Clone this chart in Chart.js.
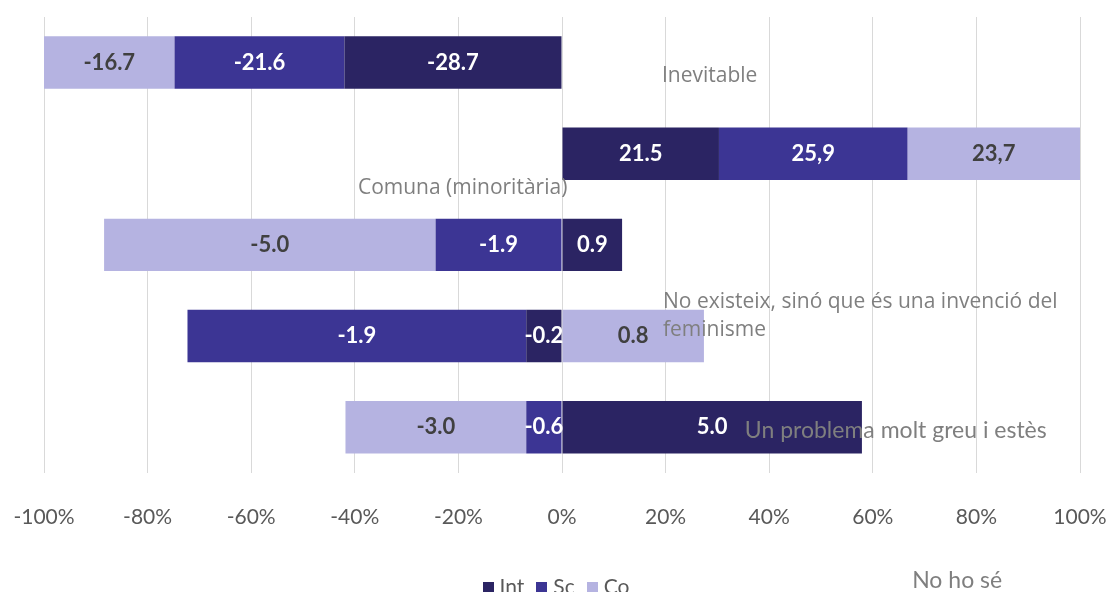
<!DOCTYPE html>
<html>
<head>
<meta charset="utf-8">
<script src="https://cdn.jsdelivr.net/npm/chart.js@4.4.1/dist/chart.umd.min.js"></script>
<style>
  html, body { margin: 0; padding: 0; background: #fff; overflow: hidden; }
  #wrap { position: relative; width: 1112px; height: 592px; }
  #legend {
    position: absolute; left: 0; top: 573px; width: 1112px;
    text-align: center; font-family: Lato, sans-serif; font-size: 21px; color: #595959;
    white-space: nowrap;
  }
  #legend span.item { margin: 0 6px; }
  #legend span.box { display: inline-block; width: 11px; height: 11px; margin-right: 6px; vertical-align: 1px; }
</style>
</head>
<body>
<div id="wrap">
  <canvas id="myChart" width="1112" height="592"></canvas>
  <div id="legend"></div>
</div>
<script>
//categories (the y rows, top to bottom)
const categories = [
  'Inevitable',
  'Comuna (minoritària)',
  ['No existeix, sinó que és una invenció del', 'feminisme'],
  'Un problema molt greu i estès',
  'No ho sé'
];

const seriesNames = ['Int', 'Sc', 'Co'];
const seriesColors = ['#2b2463', '#3c3594', '#b5b3e1'];

//bar lengths
const intValues = [-42.0, 30.3, 11.6, -6.9, 57.9];
const scValues = [-32.8, 36.4, -24.4, -65.4, -6.9];
const coValues = [-25.2, 33.3, -64.0, 27.4, -34.9];

//numbers printed inside the bars
const intText = ['-28.7', '21.5', '0.9', '-0.2', '5.0'];
const scText = ['-21.6', '25,9', '-1.9', '-1.9', '-0.6'];
const coText = ['-16.7', '23,7', '-5.0', '0.8', '-3.0'];

const xTicks = [-100, -80, -60, -40, -20, 0, 20, 40, 60, 80, 100];

//where the category names float (x in axis %, dy in px from own row centre)
const labelSpots = [
  { x: 19.3, dy: 13, font: '21px "Open Sans"' },
  { x: -39.4, dy: 34, font: '21px "Open Sans"' },
  { x: 19.5, dy: 57, font: '21px "Open Sans"' },
  { x: 35.3, dy: 95, font: '23px Lato' },
  { x: 67.6, dy: 153, font: '23px Lato' }
];

const valueTexts = [intText, scText, coText];
const textColors = ['#ffffff', '#ffffff', '#404040'];

const barText = {
  id: 'barText',
  afterDatasetsDraw(chart) {
    const ctx = chart.ctx;
    ctx.save();
    ctx.font = 'bold 22px Lato';
    ctx.textAlign = 'center';
    ctx.textBaseline = 'middle';
    chart.data.datasets.forEach((ds, d) => {
      chart.getDatasetMeta(d).data.forEach((bar, i) => {
        const c = bar.getCenterPoint();
        ctx.fillStyle = textColors[d];
        ctx.fillText(valueTexts[d][i], c.x, c.y);
      });
    });
    ctx.restore();
  }
};

const floatingLabels = {
  id: 'floatingLabels',
  afterDraw(chart) {
    const { ctx, scales: { x, y } } = chart;
    ctx.save();
    ctx.fillStyle = '#7f7f7f';
    ctx.textAlign = 'left';
    ctx.textBaseline = 'middle';
    categories.forEach((cat, i) => {
      const spot = labelSpots[i];
      ctx.font = spot.font;
      const lines = Array.isArray(cat) ? cat : [cat];
      const px = x.getPixelForValue(spot.x);
      const py = y.getPixelForValue(i) + spot.dy;
      lines.forEach((ln, k) => ctx.fillText(ln, px, py + k * 28));
    });
    ctx.restore();
  }
};

const ctx = document.getElementById('myChart').getContext('2d');
const myChart = new Chart(ctx, {
  type: 'bar',
  data: {
    labels: categories,
    datasets: [intValues, scValues, coValues].map((vals, d) => ({
      label: seriesNames[d],
      data: vals,
      backgroundColor: seriesColors[d],
      borderWidth: 0,
      barPercentage: 0.575,
      categoryPercentage: 1
    }))
  },
  options: {
    indexAxis: 'y',
    responsive: false,
    animation: false,
    layout: { padding: { left: 44, right: 32, top: 17, bottom: 30 } },
    plugins: {
      legend: { display: false },
      tooltip: { enabled: false }
    },
    scales: {
      x: {
        stacked: true,
        min: -100,
        max: 100,
        afterBuildTicks: axis => { axis.ticks = xTicks.map(v => ({ value: v })); },
        // the end labels may hang outside the plot, layout padding covers them
        afterFit: axis => { axis.paddingLeft = 0; axis.paddingRight = 0; },
        grid: { color: '#d9d9d9', drawTicks: false },
        border: { display: false },
        ticks: {
          padding: 32,
          color: '#595959',
          font: { family: 'Lato', size: 21 },
          callback: v => v + '%'
        }
      },
      y: {
        stacked: true,
        display: false
      }
    }
  },
  plugins: [barText, floatingLabels]
});

//legend built from the datasets
const legend = document.getElementById('legend');
myChart.data.datasets.forEach(ds => {
  const item = document.createElement('span');
  item.className = 'item';
  const box = document.createElement('span');
  box.className = 'box';
  box.style.background = ds.backgroundColor;
  item.appendChild(box);
  item.appendChild(document.createTextNode(ds.label));
  legend.appendChild(item);
});
</script>
</body>
</html>
